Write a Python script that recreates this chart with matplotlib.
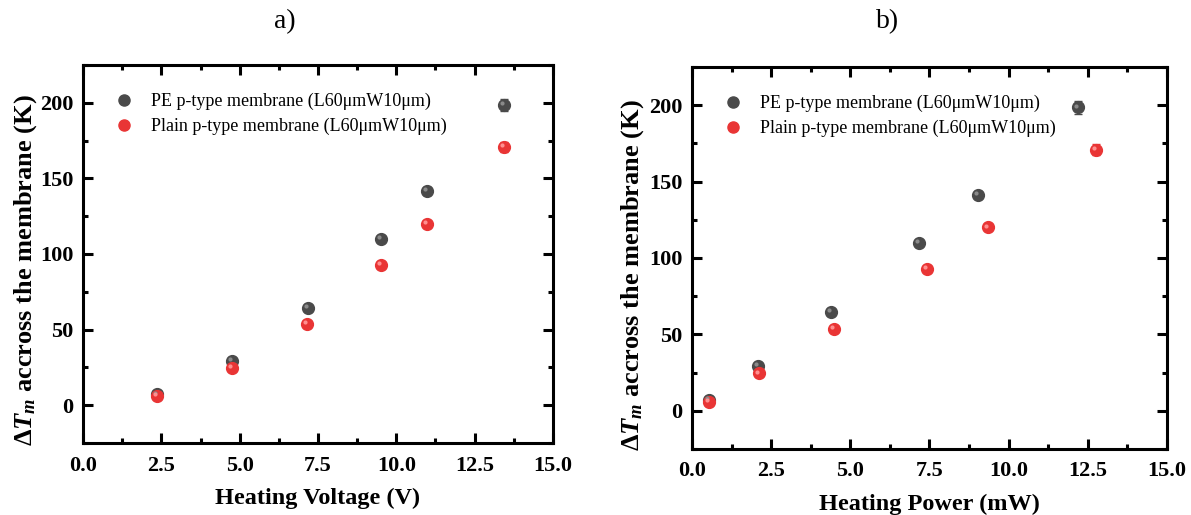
import matplotlib
matplotlib.use('Agg')
import matplotlib.pyplot as plt
import matplotlib.ticker as ticker
import matplotlib.transforms as mtransforms
from matplotlib.lines import Line2D

matplotlib.rcParams.update({
    'font.family': 'Liberation Serif',
    'mathtext.fontset': 'custom',
    'mathtext.rm': 'Liberation Serif:bold',
    'mathtext.it': 'Liberation Serif:bold:italic',
    'mathtext.bf': 'Liberation Serif:bold',
})

# data
dT_pe = [7.2, 29.5, 64.5, 110.0, 141.5, 198.5]
dT_pe_err = [1.0, 1.0, 1.2, 1.5, 2.5, 4.0]
dT_plain = [6.0, 24.5, 53.8, 93.0, 120.0, 170.8]
dT_plain_err = [1.0, 1.0, 1.2, 1.5, 2.0, 3.5]

volt_pe = [2.36, 4.75, 7.18, 9.52, 10.98, 13.44]
volt_plain = [2.36, 4.75, 7.15, 9.52, 10.98, 13.44]

power_pe = [0.54, 2.08, 4.39, 7.17, 9.02, 12.19]
power_plain = [0.54, 2.12, 4.48, 7.42, 9.35, 12.76]

label_pe = 'PE p-type membrane (L60\u03bcmW10\u03bcm)'
label_plain = 'Plain p-type membrane (L60\u03bcmW10\u03bcm)'

grey = '#4a4a4a'
red = '#e93535'

fig = plt.figure(figsize=(11.91, 5.15), dpi=100)
ax1 = fig.add_axes([0.0697, 0.1398, 0.3946, 0.7340])
ax2 = fig.add_axes([0.5810, 0.1282, 0.3988, 0.7417])


def draw_panel(ax, x_pe, x_plain, xlabel, ylab_xy):
    ax.errorbar(x_pe, dT_pe, yerr=dT_pe_err, fmt='o', color=grey, ms=8.5,
                capsize=3, elinewidth=1, capthick=1, zorder=3)
    ax.errorbar(x_plain, dT_plain, yerr=dT_plain_err, fmt='o', color=red, ms=8.5,
                capsize=3, elinewidth=1, capthick=1, zorder=3)
    # small highlight to give the sphere look
    shift = mtransforms.ScaledTranslation(-1.3 / 72, 1.3 / 72, fig.dpi_scale_trans)
    ax.plot(x_pe, dT_pe, 'o', color='#8a8a8a', ms=3, mew=0,
            transform=ax.transData + shift, zorder=4)
    ax.plot(x_plain, dT_plain, 'o', color='#ff8f8f', ms=3, mew=0,
            transform=ax.transData + shift, zorder=4)

    ax.set_xlim(0, 15)
    ax.set_ylim(-25, 225)
    ax.xaxis.set_major_locator(ticker.MultipleLocator(2.5))
    ax.xaxis.set_minor_locator(ticker.MultipleLocator(1.25))
    ax.yaxis.set_major_locator(ticker.MultipleLocator(50))
    ax.yaxis.set_minor_locator(ticker.MultipleLocator(25))
    ax.xaxis.set_major_formatter(ticker.FormatStrFormatter('%.1f'))
    ax.tick_params(which='both', direction='in', top=True, right=True, width=2.2)
    ax.tick_params(which='major', length=7, labelsize=16, pad=9)
    ax.tick_params(axis='y', which='major', pad=7)
    ax.tick_params(which='minor', length=3.5)
    for lab in ax.get_xticklabels() + ax.get_yticklabels():
        lab.set_fontweight('bold')
    for s in ax.spines.values():
        s.set_linewidth(2.2)

    ax.set_xlabel(xlabel, fontsize=17.5, fontweight='bold', labelpad=9)
    ax.set_ylabel(r'$\Delta T_m$ accross the membrane (K)', fontsize=19,
                  fontweight='bold')
    ax.yaxis.set_label_coords(*ylab_xy)

    handles = [Line2D([], [], ls='none', marker='o', color=grey, ms=8),
               Line2D([], [], ls='none', marker='o', color=red, ms=8)]
    ax.legend(handles, [label_pe, label_plain], loc='upper left',
              bbox_to_anchor=(0.03, 0.97), frameon=False, fontsize=13,
              handletextpad=0.9, labelspacing=0.45, handlelength=1.2)


draw_panel(ax1, volt_pe, volt_plain, 'Heating Voltage (V)', (-0.093, 0.458))
draw_panel(ax2, power_pe, power_plain, 'Heating Power (mW)', (-0.096, 0.455))

fig.text(285 / 1191, 1 - 22 / 515, 'a)', fontsize=20, ha='center', va='center')
fig.text(888 / 1191, 1 - 22 / 515, 'b)', fontsize=20, ha='center', va='center')

fig.savefig('out.png', dpi=100)
